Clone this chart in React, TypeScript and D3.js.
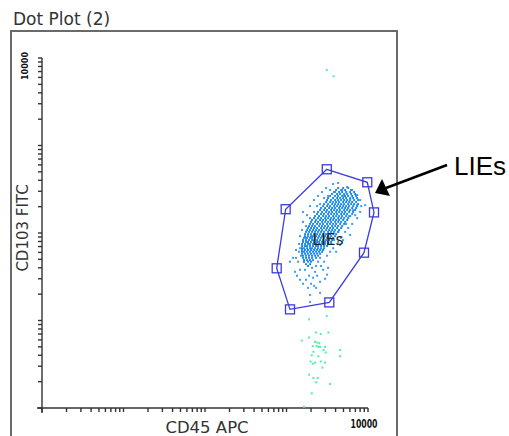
import React, { useEffect, useRef } from 'react';
import * as d3 from 'd3';

const title = 'Dot Plot (2)';
const xLabel = 'CD45 APC';
const yLabel = 'CD103 FITC';
const gateName = 'LIEs';
const axisMaxLabel = '10000';

// gate vertices (CD45, CD103)
const gateCD45 = [3122, 9800, 11850, 8930, 3351, 1104, 758, 977];
const gateCD103 = [535, 380, 172, 59.6, 16.1, 13.4, 39.5, 187];

// dense LIEs core, read row by row: [CD103, CD45 values in that row]
const lieCore: [number, number[]][] = [
  [327, [4299, 4953, 5707]],
  [310, [4063, 4681, 5242, 6212]],
  [294, [3839, 4423, 4815, 5392, 6039, 6763]],
  [279, [3628, 4179, 4550, 5095, 5547, 6212, 6957]],
  [265, [3428, 3949, 4299, 4815, 5242, 5707, 6391, 7157]],
  [251, [3239, 3732, 4179, 4550, 4953, 5392, 6039, 6574, 7363]],
  [238, [3149, 3526, 3949, 4299, 4681, 5095, 5547, 6039, 6763, 7574]],
  [226, [3061, 3428, 3732, 4063, 4423, 4953, 5392, 5870, 6391, 7157]],
  [214, [2892, 3239, 3628, 3949, 4299, 4681, 5095, 5707, 6212, 6763, 7574]],
  [203, [2811, 3149, 3428, 3839, 4179, 4550, 4953, 5392, 5870, 6574, 7363]],
  [193, [2657, 2975, 3332, 3628, 3949, 4423, 4815, 5242, 5707, 6391, 7157]],
  [183, [2582, 2892, 3149, 3526, 3839, 4179, 4550, 5095, 5547, 6039, 6957]],
  [174, [2440, 2733, 3061, 3332, 3628, 4063, 4423, 4815, 5242, 5870, 6574]],
  [165, [2372, 2657, 2892, 3239, 3526, 3839, 4179, 4681, 5095, 5547, 6391]],
  [156, [2241, 2510, 2811, 3061, 3332, 3732, 4063, 4423, 4815, 5392, 6039]],
  [148, [2179, 2440, 2657, 2975, 3239, 3526, 3839, 4299, 4681, 5095, 5707]],
  [141, [2059, 2306, 2582, 2811, 3061, 3428, 3732, 4063, 4423, 4953, 5547]],
  [134, [2001, 2241, 2440, 2733, 2975, 3239, 3526, 3949, 4299, 4681, 5242]],
  [127, [1945, 2118, 2372, 2582, 2811, 3149, 3428, 3732, 4063, 4550, 5095]],
  [120, [1891, 2059, 2241, 2510, 2733, 2975, 3239, 3628, 3949, 4299, 4815]],
  [114, [1838, 2001, 2179, 2372, 2657, 2892, 3149, 3428, 3732, 4179, 4681]],
  [108, [1787, 1945, 2118, 2306, 2510, 2733, 3061, 3332, 3628, 3949, 4423]],
  [103, [1737, 1891, 2059, 2241, 2440, 2657, 2892, 3239, 3526, 3839, 4299]],
  [97, [1688, 1838, 2001, 2179, 2372, 2582, 2811, 3061, 3428, 3732, 4063]],
  [92, [1688, 1838, 2001, 2118, 2306, 2510, 2733, 2975, 3239, 3526, 3949]],
  [88, [1641, 1787, 1945, 2059, 2241, 2440, 2657, 2892, 3149, 3428, 3732]],
  [83, [1595, 1737, 1891, 2059, 2179, 2372, 2582, 2811, 3061, 3332, 3628]],
  [79, [1595, 1737, 1838, 2001, 2179, 2372, 2510, 2733, 2975, 3239, 3526]],
  [75, [1551, 1688, 1838, 1945, 2118, 2306, 2510, 2733, 2975, 3239]],
  [71, [1551, 1688, 1787, 1945, 2118, 2306, 2440, 2657, 2892, 3149]],
  [67, [1551, 1641, 1787, 1945, 2059, 2241, 2440, 2657, 2892]],
  [64, [1551, 1688, 1838, 2001, 2179, 2372, 2582, 2811]],
  [61, [1551, 1641, 1787, 1945, 2118, 2306, 2510, 2733]],
  [58, [1551, 1688, 1838, 2001, 2179, 2372, 2582]],
  [55, [1595, 1737, 1891, 2059, 2241, 2440]],
  [52, [1595, 1737, 1891, 2059, 2306]],
  [49, [1641, 1787, 1945, 2118]],
  [47, [1641, 1838, 2001]],
  [44, [1737, 1945]],
  [42, [1838]]
];

// sparse LIEs events around the core: [CD45, CD103]
const lieHalo: [number, number][] = [
  [3732, 363], [4299, 373], [5547, 336], [6391, 310], [7363, 272], [8015, 238],
  [8246, 203], [8015, 174], [7363, 148], [6957, 160], [6391, 127], [5707, 114],
  [5242, 103], [4681, 88], [4299, 79], [3732, 67], [3428, 61], [3149, 55],
  [2892, 47], [2811, 38], [3149, 33.4], [2582, 27.7], [2975, 30], [2306, 23.6],
  [2582, 20.7], [1945, 19.6], [1838, 23.6], [1945, 16.3], [1595, 26.3], [1465, 29.2],
  [1346, 32.5], [1272, 36], [1104, 47], [1202, 52], [1308, 64], [1424, 75],
  [1465, 92], [1551, 108], [1595, 134], [1595, 174], [1787, 160], [1945, 203],
  [2179, 238], [2440, 265], [2733, 294], [3061, 327], [3428, 310], [3949, 294],
  [2059, 40], [2241, 36], [1688, 38], [2440, 47], [2582, 52], [2811, 64],
  [1385, 47], [1507, 55], [2118, 30.8], [1737, 29.2], [4815, 310], [9234, 208],
  [6039, 95], [4550, 73], [4063, 61], [1465, 38], [2179, 24.9], [1891, 32.5],
  [2372, 32.5], [3239, 40], [5095, 265], [7363, 208], [6574, 183], [1737, 120],
  [1737, 88], [1945, 148], [2179, 174], [2372, 203], [2582, 214], [2892, 251],
  [3239, 265], [1465, 67], [1308, 52], [5870, 156], [2306, 42], [2657, 42],
  [2001, 26.3], [1641, 47], [1424, 61], [4953, 83], [4299, 103], [5392, 127],
  [3839, 83], [3526, 75]
];

// events outside the gate: [CD45, CD103]
const otherEvents: [number, number][] = [
  [3122, 7290], [3790, 6180],
  [3122, 11.3], [1891, 10.3], [2306, 7.3], [2630, 7.0], [3270, 7.3], [1891, 6.4],
  [1540, 5.9], [2241, 5.7], [2392, 5.6], [2530, 5.5], [2100, 5.1], [2350, 5.1],
  [2460, 5.0], [2582, 5.0], [2975, 5.0], [2850, 4.6], [4550, 4.6], [2140, 4.4],
  [3030, 4.3], [2040, 4.0], [2460, 3.9], [4550, 3.9], [1980, 3.4], [2241, 3.3],
  [2630, 3.4], [2975, 3.3], [2100, 3.2], [2760, 2.9], [1900, 2.4], [2140, 2.2],
  [2410, 2.2], [2306, 1.97], [3428, 1.88], [2040, 1.47], [1641, 1.03]
];

const DotPlot = () => {
  const ref = useRef(null);

  useEffect(() => {
    d3.select(ref.current).selectAll('*').remove();

    const width = 509;
    const height = 436;

    const svg = d3.select(ref.current)
      .append('svg')
      .attr('width', width)
      .attr('height', height)
      .style('display', 'block');

    const x = d3.scaleLog().domain([1, 10000]).range([42, 368]);
    const y = d3.scaleLog().domain([1, 10000]).range([408, 58]);

    // title + frame
    svg.append('text')
      .attr('x', 13)
      .attr('y', 25)
      .attr('font-family', 'DejaVu Sans')
      .attr('font-size', 17)
      .attr('fill', '#333')
      .text(title);

    svg.append('path')
      .attr('d', 'M11,436V31H397V436')
      .attr('fill', 'none')
      .attr('stroke', '#6a6a6a')
      .attr('stroke-width', 2);

    // log ticks 1..10000
    const tickValues: number[] = [];
    [1, 10, 100, 1000].forEach(d => {
      for (let k = 1; k < 10; k++) tickValues.push(k * d);
    });
    tickValues.push(10000);

    const axes = svg.append('g')
      .attr('stroke', '#333')
      .attr('stroke-width', 1.4);

    axes.append('line')
      .attr('x1', x(1) - 5).attr('x2', x(10000))
      .attr('y1', y(1)).attr('y2', y(1));
    axes.append('line')
      .attr('x1', x(1)).attr('x2', x(1))
      .attr('y1', y(10000)).attr('y2', y(1) + 5);

    axes.selectAll('.xt')
      .data(tickValues).enter()
      .append('line')
      .attr('x1', d => x(d)).attr('x2', d => x(d))
      .attr('y1', y(1)).attr('y2', y(1) + 4);

    axes.selectAll('.yt')
      .data(tickValues).enter()
      .append('line')
      .attr('x1', x(1) - 4).attr('x2', x(1))
      .attr('y1', d => y(d)).attr('y2', d => y(d));

    // max labels
    svg.append('text')
      .attr('transform', `translate(${x(1) - 14}, ${y(10000) + 8}) rotate(-90)`)
      .attr('text-anchor', 'middle')
      .attr('font-family', 'DejaVu Sans Condensed')
      .attr('font-weight', 700)
      .attr('font-size', 9)
      .attr('textLength', 28)
      .attr('lengthAdjust', 'spacingAndGlyphs')
      .attr('fill', '#111')
      .text(axisMaxLabel);

    svg.append('text')
      .attr('x', x(10000) - 4)
      .attr('y', 428)
      .attr('text-anchor', 'middle')
      .attr('font-family', 'DejaVu Sans Condensed')
      .attr('font-weight', 700)
      .attr('font-size', 12)
      .attr('textLength', 27)
      .attr('lengthAdjust', 'spacingAndGlyphs')
      .attr('fill', '#111')
      .text(axisMaxLabel);

    // axis titles
    svg.append('text')
      .attr('x', 207)
      .attr('y', 433)
      .attr('text-anchor', 'middle')
      .attr('font-family', 'DejaVu Sans')
      .attr('font-size', 16.5)
      .attr('fill', '#333')
      .text(xLabel);

    svg.append('text')
      .attr('transform', 'translate(28, 228) rotate(-90)')
      .attr('text-anchor', 'middle')
      .attr('font-family', 'DejaVu Sans')
      .attr('font-size', 15)
      .attr('fill', '#333')
      .text(yLabel);

    // events
    svg.append('g').attr('fill', '#4ff0a8')
      .selectAll('rect')
      .data(otherEvents).enter()
      .append('rect')
      .attr('x', d => x(d[0]) - 1)
      .attr('y', d => y(d[1]) - 1)
      .attr('width', 2)
      .attr('height', 2);

    const core: [number, number][] = [];
    lieCore.forEach(([cd103, xs]) => xs.forEach(v => core.push([v, cd103])));

    svg.append('g').attr('fill', '#3d9cf2')
      .selectAll('rect')
      .data(lieHalo).enter()
      .append('rect')
      .attr('x', d => x(d[0]) - 1)
      .attr('y', d => y(d[1]) - 1)
      .attr('width', 2)
      .attr('height', 2);

    svg.append('g').attr('fill', '#1b8af0')
      .selectAll('rect')
      .data(core).enter()
      .append('rect')
      .attr('x', d => x(d[0]) - 1)
      .attr('y', d => y(d[1]) - 1)
      .attr('width', 2)
      .attr('height', 2);

    // gate
    const gatePts = gateCD45.map((v, i) => [x(v), y(gateCD103[i])] as [number, number]);
    svg.append('path')
      .attr('d', d3.line().curve(d3.curveLinearClosed)(gatePts))
      .attr('fill', 'none')
      .attr('stroke', '#3b3be0')
      .attr('stroke-width', 1.3);

    svg.append('g').selectAll('rect')
      .data(gatePts).enter()
      .append('rect')
      .attr('x', d => d[0] - 4.5)
      .attr('y', d => d[1] - 4.5)
      .attr('width', 9)
      .attr('height', 9)
      .attr('fill', 'none')
      .attr('stroke', '#3b3be0')
      .attr('stroke-width', 1.3);

    svg.append('text')
      .attr('x', x(3239))
      .attr('y', y(88) + 7)
      .attr('text-anchor', 'middle')
      .attr('font-family', 'DejaVu Sans')
      .attr('font-size', 15.5)
      .attr('fill', '#222')
      .text(gateName);

    // callout
    svg.append('line')
      .attr('x1', 447).attr('y1', 165)
      .attr('x2', 386).attr('y2', 188)
      .attr('stroke', '#000')
      .attr('stroke-width', 2.5);
    svg.append('path')
      .attr('d', 'M375,193L382,179L390,196Z')
      .attr('fill', '#000');

    svg.append('text')
      .attr('x', 454)
      .attr('y', 175)
      .attr('font-family', 'Liberation Sans')
      .attr('font-size', 26)
      .attr('fill', '#000')
      .text(gateName);
  }, []);

  return <div ref={ref} style={{ position: 'absolute', left: 0, top: 0 }}></div>;
};

export default function App() {
  return <DotPlot />;
}
